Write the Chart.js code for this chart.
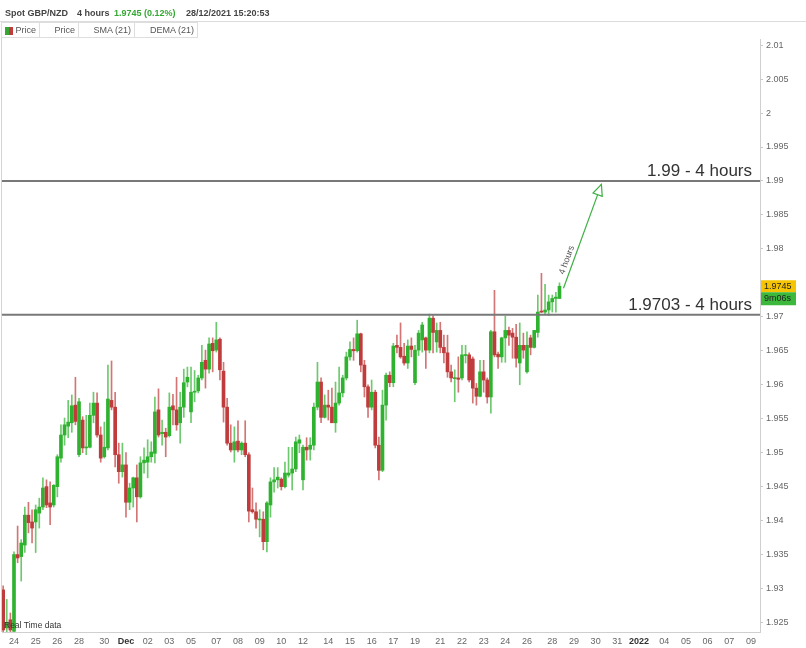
<!DOCTYPE html>
<html>
<head>
<meta charset="utf-8">
<title>Spot GBP/NZD 4 hours</title>
<script src="https://cdn.jsdelivr.net/npm/chart.js@4.4.1/dist/chart.umd.min.js"></script>
<style>
  body { margin: 0; background: #fff; font-family: "Liberation Sans", Arial, sans-serif; }
  #wrap { position: relative; width: 806px; height: 648px; }
  #wrap canvas { position: absolute; left: 0; top: 0; }
  .head { position: absolute; left: 0; top: 0; width: 806px; height: 21px; border-bottom: 1px solid #dcdcdc; font-size: 9px; font-weight: bold; color: #444; z-index: 2; }
  .head span { position: absolute; top: 8px; white-space: nowrap; }
  .head .up { color: #35a834; }
  .legend { position: absolute; left: 1px; top: 22px; height: 16px; display: flex; z-index: 2; }
  .legend div { box-sizing: border-box; height: 16px; border: 1px solid #dedede; border-left: none; font-size: 9px; color: #555; line-height: 14px; text-align: right; padding-right: 3px; position: relative; }
  .legend div:first-child { border-left: 1px solid #dedede; }
  .legend .icon { position: absolute; left: 3px; top: 4px; width: 8px; height: 8px; background: linear-gradient(90deg, #35a834 50%, #c03b3b 50%); }
</style>
</head>
<body>
<div id="wrap">
  <canvas id="chart"></canvas>
  <div class="head">
    <span style="left:5px">Spot GBP/NZD</span>
    <span style="left:77px">4 hours</span>
    <span class="up" style="left:114px">1.9745 (0.12%)</span>
    <span style="left:186px">28/12/2021 15:20:53</span>
  </div>
  <div class="legend">
    <div style="width:39px"><span class="icon"></span>Price</div>
    <div style="width:39px">Price</div>
    <div style="width:56px">SMA (21)</div>
    <div style="width:63px">DEMA (21)</div>
  </div>
</div>
<script>
// 4h bars, one slot per bar, weekends skipped (slot 0 = 24 Nov 00:00)
const firstSlot = -3;

const openP = [
  1.9298, 1.9242, 1.9254, 1.9237, 1.9350, 1.9347, 1.9364, 1.9408, 1.9398, 1.9398,
  1.9411, 1.9420, 1.9450, 1.9426, 1.9423, 1.9450, 1.9492, 1.9526, 1.9539, 1.9544,
  1.9570, 1.9497, 1.9548, 1.9507, 1.9508, 1.9555, 1.9573, 1.9526, 1.9494, 1.9507,
  1.9577, 1.9567, 1.9497, 1.9472, 1.9482, 1.9427, 1.9448, 1.9463, 1.9435, 1.9485,
  1.9486, 1.9494, 1.9499, 1.9563, 1.9528, 1.9530, 1.9525, 1.9569, 1.9563, 1.9544,
  1.9567, 1.9604, 1.9560, 1.9589, 1.9591, 1.9610, 1.9636, 1.9623, 1.9661, 1.9651,
  1.9667, 1.9620, 1.9567, 1.9514, 1.9504, 1.9517, 1.9504, 1.9514, 1.9497, 1.9416,
  1.9413, 1.9401, 1.9402, 1.9369, 1.9423, 1.9457, 1.9460, 1.9461, 1.9450, 1.9467,
  1.9470, 1.9476, 1.9514, 1.9460, 1.9508, 1.9505, 1.9511, 1.9567, 1.9604, 1.9552,
  1.9570, 1.9567, 1.9544, 1.9573, 1.9588, 1.9610, 1.9641, 1.9652, 1.9650, 1.9675,
  1.9629, 1.9597, 1.9567, 1.9589, 1.9511, 1.9474, 1.9570, 1.9614, 1.9603, 1.9658,
  1.9655, 1.9642, 1.9632, 1.9657, 1.9603, 1.9651, 1.9666, 1.9669, 1.9651, 1.9698,
  1.9663, 1.9680, 1.9655, 1.9647, 1.9619, 1.9609, 1.9610, 1.9610, 1.9643, 1.9644,
  1.9638, 1.9595, 1.9583, 1.9619, 1.9607, 1.9582, 1.9678, 1.9645, 1.9641, 1.9669,
  1.9680, 1.9676, 1.9670, 1.9632, 1.9658, 1.9619, 1.9669, 1.9655, 1.9677, 1.9708,
  1.9707, 1.9710, 1.9722, 1.9727, 1.9727
];
const highP = [
  1.9304, 1.9284, 1.9264, 1.9354, 1.9392, 1.9372, 1.9420, 1.9427, 1.9416, 1.9423,
  1.9433, 1.9463, 1.9460, 1.9457, 1.9453, 1.9497, 1.9541, 1.9551, 1.9577, 1.9585,
  1.9611, 1.9580, 1.9553, 1.9555, 1.9573, 1.9589, 1.9588, 1.9538, 1.9545, 1.9629,
  1.9635, 1.9589, 1.9514, 1.9514, 1.9500, 1.9455, 1.9464, 1.9482, 1.9494, 1.9507,
  1.9519, 1.9516, 1.9582, 1.9594, 1.9548, 1.9536, 1.9588, 1.9586, 1.9611, 1.9589,
  1.9623, 1.9626, 1.9626, 1.9621, 1.9614, 1.9658, 1.9651, 1.9669, 1.9669, 1.9692,
  1.9669, 1.9633, 1.9580, 1.9541, 1.9538, 1.9547, 1.9516, 1.9547, 1.9500, 1.9448,
  1.9426, 1.9416, 1.9413, 1.9428, 1.9463, 1.9478, 1.9478, 1.9463, 1.9486, 1.9508,
  1.9508, 1.9523, 1.9526, 1.9511, 1.9522, 1.9522, 1.9573, 1.9633, 1.9610, 1.9585,
  1.9592, 1.9595, 1.9604, 1.9626, 1.9614, 1.9648, 1.9663, 1.9669, 1.9695, 1.9676,
  1.9636, 1.9600, 1.9607, 1.9592, 1.9523, 1.9592, 1.9617, 1.9619, 1.9661, 1.9673,
  1.9691, 1.9661, 1.9666, 1.9669, 1.9658, 1.9680, 1.9692, 1.9670, 1.9704, 1.9702,
  1.9691, 1.9692, 1.9673, 1.9673, 1.9629, 1.9622, 1.9641, 1.9658, 1.9658, 1.9647,
  1.9641, 1.9602, 1.9636, 1.9636, 1.9610, 1.9680, 1.9739, 1.9648, 1.9670, 1.9701,
  1.9685, 1.9683, 1.9689, 1.9691, 1.9676, 1.9678, 1.9673, 1.9680, 1.9732, 1.9764,
  1.9748, 1.9732, 1.9732, 1.9736, 1.9750
];
const lowP = [
  1.9236, 1.9236, 1.9236, 1.9236, 1.9338, 1.9311, 1.9353, 1.9382, 1.9367, 1.9353,
  1.9389, 1.9416, 1.9419, 1.9394, 1.9420, 1.9435, 1.9486, 1.9511, 1.9522, 1.9530,
  1.9541, 1.9494, 1.9500, 1.9497, 1.9507, 1.9544, 1.9523, 1.9486, 1.9492, 1.9504,
  1.9563, 1.9479, 1.9455, 1.9464, 1.9405, 1.9416, 1.9420, 1.9398, 1.9433, 1.9470,
  1.9463, 1.9486, 1.9485, 1.9523, 1.9511, 1.9494, 1.9523, 1.9541, 1.9533, 1.9514,
  1.9552, 1.9597, 1.9544, 1.9575, 1.9588, 1.9607, 1.9595, 1.9617, 1.9619, 1.9648,
  1.9607, 1.9545, 1.9511, 1.9501, 1.9486, 1.9501, 1.9497, 1.9494, 1.9398, 1.9411,
  1.9389, 1.9376, 1.9357, 1.9354, 1.9405, 1.9442, 1.9448, 1.9445, 1.9448, 1.9464,
  1.9445, 1.9472, 1.9500, 1.9445, 1.9489, 1.9489, 1.9504, 1.9563, 1.9544, 1.9551,
  1.9548, 1.9544, 1.9530, 1.9570, 1.9582, 1.9607, 1.9636, 1.9636, 1.9648, 1.9619,
  1.9582, 1.9552, 1.9563, 1.9507, 1.9460, 1.9472, 1.9548, 1.9597, 1.9597, 1.9647,
  1.9639, 1.9629, 1.9624, 1.9641, 1.9600, 1.9643, 1.9648, 1.9624, 1.9647, 1.9647,
  1.9648, 1.9647, 1.9632, 1.9611, 1.9604, 1.9575, 1.9589, 1.9607, 1.9632, 1.9604,
  1.9573, 1.9570, 1.9582, 1.9589, 1.9573, 1.9558, 1.9641, 1.9624, 1.9633, 1.9633,
  1.9658, 1.9639, 1.9626, 1.9600, 1.9639, 1.9617, 1.9644, 1.9654, 1.9670, 1.9706,
  1.9704, 1.9702, 1.9707, 1.9707, 1.9727
];
const closeP = [
  1.9239, 1.9250, 1.9239, 1.9350, 1.9345, 1.9367, 1.9408, 1.9397, 1.9389, 1.9416,
  1.9420, 1.9448, 1.9423, 1.9420, 1.9452, 1.9494, 1.9526, 1.9541, 1.9545, 1.9569,
  1.9546, 1.9575, 1.9507, 1.9508, 1.9555, 1.9573, 1.9526, 1.9492, 1.9508, 1.9579,
  1.9567, 1.9497, 1.9472, 1.9482, 1.9427, 1.9448, 1.9463, 1.9435, 1.9485, 1.9489,
  1.9494, 1.9501, 1.9560, 1.9526, 1.9530, 1.9523, 1.9567, 1.9563, 1.9541, 1.9567,
  1.9603, 1.9611, 1.9589, 1.9590, 1.9610, 1.9633, 1.9623, 1.9660, 1.9650, 1.9666,
  1.9622, 1.9567, 1.9514, 1.9504, 1.9516, 1.9504, 1.9514, 1.9497, 1.9414, 1.9413,
  1.9402, 1.9402, 1.9369, 1.9426, 1.9457, 1.9460, 1.9464, 1.9450, 1.9470, 1.9470,
  1.9476, 1.9516, 1.9519, 1.9508, 1.9504, 1.9511, 1.9567, 1.9604, 1.9552, 1.9570,
  1.9567, 1.9544, 1.9573, 1.9588, 1.9610, 1.9641, 1.9652, 1.9650, 1.9675, 1.9629,
  1.9597, 1.9567, 1.9589, 1.9511, 1.9474, 1.9570, 1.9614, 1.9603, 1.9657, 1.9655,
  1.9641, 1.9632, 1.9657, 1.9652, 1.9651, 1.9676, 1.9688, 1.9651, 1.9698, 1.9677,
  1.9680, 1.9655, 1.9647, 1.9619, 1.9610, 1.9610, 1.9608, 1.9644, 1.9644, 1.9607,
  1.9595, 1.9583, 1.9619, 1.9607, 1.9582, 1.9678, 1.9644, 1.9641, 1.9669, 1.9680,
  1.9673, 1.9670, 1.9639, 1.9658, 1.9651, 1.9658, 1.9655, 1.9680, 1.9707, 1.9707,
  1.9710, 1.9722, 1.9727, 1.9729, 1.9745
];

// x axis: slot of each labelled day and its label
const tickSlots = [0, 6, 12, 18, 25, 31, 37, 43, 49, 56, 62, 68, 74, 80, 87, 93, 99,
  105, 111, 118, 124, 130, 136, 142, 149, 155, 161, 167, 173, 180, 186, 192, 198, 204];
const tickLabels = ['24', '25', '26', '28', '30', 'Dec', '02', '03', '05', '07', '08', '09',
  '10', '12', '14', '15', '16', '17', '19', '21', '22', '23', '24', '26', '28', '29', '30',
  '31', '2022', '04', '05', '06', '07', '09'];
const boldLabels = ['Dec', '2022'];
const priceTicks = [1.925, 1.93, 1.935, 1.94, 1.945, 1.95, 1.955, 1.96, 1.965, 1.97,
  1.975, 1.98, 1.985, 1.99, 1.995, 2, 2.005, 2.01];

// drawn levels and the projection arrow
const levels = [1.99, 1.9703];
const levelLabels = ['1.99 - 4 hours', '1.9703 - 4 hours'];
const arrowFrom = { slot: 152.1, price: 1.9742 };
const arrowTo = { slot: 162.6, price: 1.9895 };
const arrowLabel = '4 hours';
const countdown = '9m06s';

const GREEN = '#2fb22f';
const RED = '#c03b3b';
const GREEN_WICK = 'rgba(47,178,47,0.7)';
const RED_WICK = 'rgba(192,59,59,0.7)';
const FONT = '"Liberation Sans", Arial, sans-serif';

const slots = openP.map((_, i) => firstSlot + i);
const lastClose = closeP[closeP.length - 1];
const isUp = i => closeP[i] >= openP[i];

const overlay = {
  id: 'overlay',
  afterDraw(chart) {
    const { ctx, chartArea: a, scales: { x, y } } = chart;
    ctx.save();

    // left frame line
    ctx.strokeStyle = '#d4d4d4';
    ctx.lineWidth = 1;
    ctx.beginPath();
    ctx.moveTo(a.left - 0.5, 38);
    ctx.lineTo(a.left - 0.5, a.bottom);
    ctx.stroke();

    // data source note
    ctx.font = '8.5px ' + FONT;
    ctx.fillStyle = '#333';
    ctx.textBaseline = 'alphabetic';
    ctx.fillText('Real Time data', a.left + 2, a.bottom - 4);

    // horizontal levels with labels
    levels.forEach((lv, i) => {
      const py = y.getPixelForValue(lv);
      ctx.strokeStyle = '#787878';
      ctx.lineWidth = 2;
      ctx.beginPath();
      ctx.moveTo(a.left, py);
      ctx.lineTo(a.right, py);
      ctx.stroke();
      ctx.font = '17px ' + FONT;
      ctx.fillStyle = '#333';
      ctx.textAlign = 'right';
      ctx.textBaseline = 'alphabetic';
      ctx.fillText(levelLabels[i], a.right - 8, py - 5);
    });

    // arrow
    const x0 = x.getPixelForValue(arrowFrom.slot), y0 = y.getPixelForValue(arrowFrom.price);
    const x1 = x.getPixelForValue(arrowTo.slot), y1 = y.getPixelForValue(arrowTo.price);
    const ang = Math.atan2(y1 - y0, x1 - x0);
    ctx.strokeStyle = '#3cb043';
    ctx.lineWidth = 1.2;
    ctx.beginPath();
    ctx.moveTo(x0, y0);
    ctx.lineTo(x1, y1);
    ctx.stroke();
    const len = 12, spread = 0.42;
    ctx.beginPath();
    ctx.moveTo(x1 - len * Math.cos(ang - spread), y1 - len * Math.sin(ang - spread));
    ctx.lineTo(x1, y1);
    ctx.lineTo(x1 - len * Math.cos(ang + spread), y1 - len * Math.sin(ang + spread));
    ctx.closePath();
    ctx.fillStyle = '#fff';
    ctx.fill();
    ctx.stroke();

    // rotated label along the arrow
    const t = 0.25;
    ctx.translate(x0 + (x1 - x0) * t, y0 + (y1 - y0) * t);
    ctx.rotate(ang);
    ctx.font = '9px ' + FONT;
    ctx.fillStyle = '#555';
    ctx.textAlign = 'center';
    ctx.textBaseline = 'bottom';
    ctx.fillText(arrowLabel, 0, -2);
    ctx.setTransform(1, 0, 0, 1, 0, 0);

    // last price + countdown boxes on the axis
    const py = y.getPixelForValue(lastClose);
    ctx.fillStyle = '#f6c400';
    ctx.fillRect(a.right + 1, py - 6, 35, 12);
    ctx.fillStyle = '#3cb83c';
    ctx.fillRect(a.right + 1, py + 6, 35, 13);
    ctx.font = '9px ' + FONT;
    ctx.fillStyle = '#222';
    ctx.textAlign = 'left';
    ctx.textBaseline = 'middle';
    ctx.fillText(lastClose.toFixed(4), a.right + 4, py);
    ctx.fillText(countdown, a.right + 4, py + 12.5);
    ctx.restore();
  }
};

new Chart(document.getElementById('chart'), {
  type: 'bar',
  data: {
    datasets: [
      {
        label: 'wick',
        data: slots.map((s, i) => ({ x: s, y: [lowP[i], highP[i]] })),
        backgroundColor: ctx => isUp(ctx.dataIndex) ? GREEN_WICK : RED_WICK,
        barThickness: 1,
        grouped: false,
        order: 2
      },
      {
        label: 'body',
        data: slots.map((s, i) => ({ x: s, y: [openP[i], closeP[i]] })),
        backgroundColor: ctx => isUp(ctx.dataIndex) ? GREEN : RED,
        barThickness: 3,
        minBarLength: 1,
        grouped: false,
        order: 1
      }
    ]
  },
  options: {
    responsive: true,
    maintainAspectRatio: false,
    animation: false,
    layout: { padding: { left: 2, top: 39, right: 0, bottom: 0 } },
    plugins: { legend: { display: false }, tooltip: { enabled: false } },
    scales: {
      x: {
        type: 'linear',
        offset: false,
        min: -3.32,
        max: 206.5,
        grid: { display: false, drawTicks: false },
        border: { display: true, color: '#cfcfcf' },
        afterBuildTicks: s => { s.ticks = tickSlots.map(v => ({ value: v })); },
        afterFit: s => { s.height = 16; },
        ticks: {
          autoSkip: false,
          maxRotation: 0,
          minRotation: 0,
          padding: 4,
          callback: (v, i) => tickLabels[i],
          color: ctx => boldLabels.includes(tickLabels[ctx.index]) ? '#333' : '#666',
          font: ctx => ({ family: FONT, size: 9, weight: boldLabels.includes(tickLabels[ctx.index]) ? 'bold' : 'normal' })
        }
      },
      y: {
        type: 'linear',
        position: 'right',
        min: 1.9236,
        max: 2.0109,
        afterBuildTicks: s => { s.ticks = priceTicks.map(v => ({ value: v })); },
        afterFit: s => { s.width = 46; },
        grid: { drawOnChartArea: false, drawTicks: true, tickLength: 3, color: '#c8c8c8' },
        border: { display: true, color: '#cfcfcf' },
        ticks: {
          padding: 3,
          color: '#666',
          font: { family: FONT, size: 9 },
          // the last-price box sits over the tick nearest to it
          callback: v => Math.abs(v - lastClose) < 0.001 ? '' : String(v)
        }
      }
    }
  },
  plugins: [overlay]
});
</script>
</body>
</html>
